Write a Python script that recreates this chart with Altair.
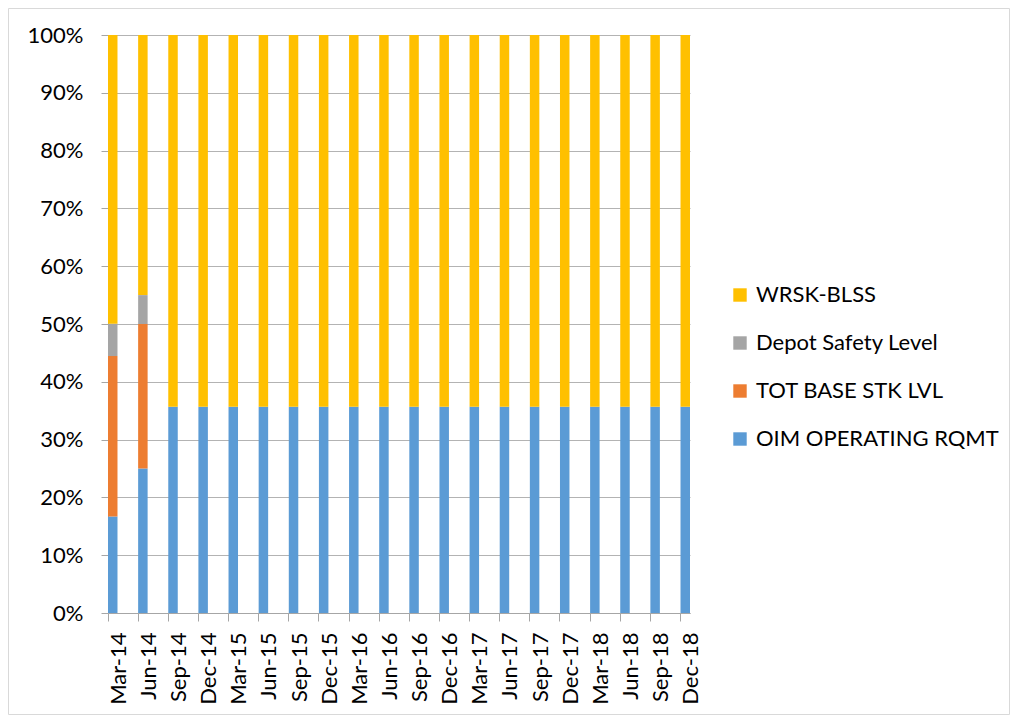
import altair as alt
import pandas as pd

quarters = ["Mar-14", "Jun-14", "Sep-14", "Dec-14", "Mar-15", "Jun-15", "Sep-15", "Dec-15",
            "Mar-16", "Jun-16", "Sep-16", "Dec-16", "Mar-17", "Jun-17", "Sep-17", "Dec-17",
            "Mar-18", "Jun-18", "Sep-18", "Dec-18"]

series = ["OIM OPERATING RQMT", "TOT BASE STK LVL", "Depot Safety Level", "WRSK-BLSS"]
colors = ["#5B9BD5", "#ED7D31", "#A5A5A5", "#FFC000"]

oim = [16.7, 25.0] + [35.7] * 18
tot = [27.8, 25.0] + [0.0] * 18
depot = [5.6, 5.0] + [0.0] * 18
wrsk = [50.0, 45.0] + [64.3] * 18

rows = []
for i, q in enumerate(quarters):
    for k, (name, vals) in enumerate(zip(series, [oim, tot, depot, wrsk])):
        rows.append({"quarter": q, "series": name, "value": vals[i], "ord": k})
df = pd.DataFrame(rows)

W, H = 582, 578
FONT = "Lato"
FS = 22

bars = alt.Chart(df).mark_bar().encode(
    x=alt.X("quarter:N", sort=quarters, title=None,
            scale=alt.Scale(paddingInner=0.685, paddingOuter=0),
            axis=alt.Axis(bandPosition=0, labelAngle=270, labelAlign="right",
                          labelBaseline="middle", labelOffset=6, labelPadding=11,
                          tickSize=8, tickColor="#A6A6A6", domainColor="#A6A6A6",
                          labelFontSize=FS, labelFont=FONT, labelColor="#000000",
                          grid=False)),
    y=alt.Y("value:Q", stack="normalize", title=None,
            scale=alt.Scale(domain=[0, 1]),
            axis=alt.Axis(format="%", values=[i / 10 for i in range(11)],
                          tickSize=7, tickColor="#A6A6A6", domainColor="#A6A6A6",
                          gridColor="#B3B3B3", labelFontSize=FS, labelFont=FONT,
                          labelColor="#000000", labelPadding=18)),
    color=alt.Color("series:N",
                    scale=alt.Scale(domain=series[::-1], range=colors[::-1]),
                    legend=alt.Legend(title=None, orient="none", legendX=621, legendY=249,
                                      symbolType="square", symbolSize=180,
                                      symbolStrokeWidth=0, labelFontSize=FS,
                                      labelFont=FONT, labelColor="#000000",
                                      labelLimit=300, rowPadding=26, labelOffset=5)),
    order=alt.Order("ord:Q", sort="ascending"),
)

border = alt.Chart(alt.Data(values=[{"a": 1}])).mark_rect(
    fill="transparent", stroke="#D9D9D9", strokeWidth=1
).encode(
    x=alt.value(-99.5), x2=alt.value(W + 319.5),
    y=alt.value(-26.5), y2=alt.value(H + 101.5),
)

chart = alt.layer(bars, border).properties(
    width=W, height=H,
    autosize=alt.AutoSizeParams(type="none"),
    padding={"left": 100, "top": 27, "right": 320, "bottom": 102},
).configure_view(stroke=None)

chart.save("out.html", embed_options={"renderer": "svg", "actions": False})
